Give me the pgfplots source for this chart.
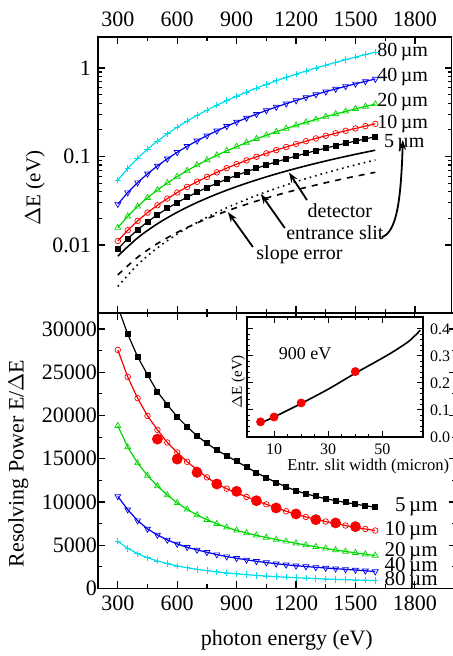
\documentclass[border=0pt]{standalone}
\usepackage{fontspec}
\setmainfont{Liberation Serif}
\usepackage{pgfplots}
\pgfplotsset{compat=1.18}
\usetikzlibrary{arrows.meta}
\definecolor{ccyan}{RGB}{0,222,235}
\definecolor{cblue}{RGB}{0,0,235}
\definecolor{cgreen}{RGB}{0,215,0}
\definecolor{cred}{RGB}{250,0,0}
\pgfplotsset{
  main/.style={scale only axis, axis line style={line width=0.8pt},
    major tick length=3.5pt, minor tick length=2pt,
    every tick/.style={line width=0.6pt, black},
    tick label style={font=\fontsize{11}{13}\selectfont},
    label style={font=\fontsize{11}{13}\selectfont},
    /pgf/number format/assume math mode=true,
    /pgf/number format/1000 sep={}},
  s80/.style={ccyan, line width=0.6pt, mark=+, mark size=1.6pt, mark options={solid, line width=0.4pt}},
  s40/.style={cblue, line width=0.6pt, mark=triangle, mark size=1.7pt, mark options={solid, rotate=180, line width=0.35pt, fill=white}},
  s20/.style={cgreen, line width=0.6pt, mark=triangle, mark size=1.7pt, mark options={solid, line width=0.35pt, fill=white}},
  s10/.style={cred, line width=0.6pt, mark=o, mark size=1.4pt, mark options={solid, line width=0.35pt, fill=white}},
  s5/.style={black, line width=0.6pt, mark=square*, mark size=1.2pt, mark options={solid}},
}
\begin{document}
\begin{tikzpicture}
\useasboundingbox (0,0) rectangle (226.5pt,328pt);
% ---------------- top panel ----------------
\begin{axis}[main, at={(49pt,171.5pt)}, anchor=south west,
  width=176.8pt, height=138pt,
  xmin=200, xmax=1985, ymode=log, ymin=0.001706, ymax=2.24,
  xtick={300,600,900,1200,1500,1800}, minor x tick num=1,
  xticklabel pos=upper, xticklabel style={yshift=1.5pt},
  ytick={0.01,0.1,1}, yticklabels={0.01,0.1,1},
  ylabel={$\Delta$E (eV)},
  ylabel style={at={(axis description cs:-0.178,0.453)}, anchor=center, font=\fontsize{10.5}{12}\selectfont},
]
\addplot[s80] coordinates {(300,0.0540)(350,0.0734)(400,0.0957)(450,0.1210)(500,0.1492)(550,0.1804)(600,0.2145)(650,0.2515)(700,0.2915)(750,0.3344)(800,0.3803)(850,0.4290)(900,0.4807)(950,0.5353)(1000,0.5928)(1050,0.6533)(1100,0.7167)(1150,0.7829)(1200,0.8521)(1250,0.9243)(1300,0.9992)(1350,1.077)(1400,1.158)(1450,1.242)(1500,1.329)(1550,1.418)(1600,1.510)};
\addplot[s40] coordinates {(300,0.0290)(350,0.03913)(400,0.05073)(450,0.06379)(500,0.07828)(550,0.09422)(600,0.1116)(650,0.1304)(700,0.1506)(750,0.1722)(800,0.1952)(850,0.2196)(900,0.2454)(950,0.2726)(1000,0.3012)(1050,0.3312)(1100,0.3626)(1150,0.3953)(1200,0.4294)(1250,0.4648)(1300,0.5017)(1350,0.5399)(1400,0.5794)(1450,0.6203)(1500,0.6626)(1550,0.7062)(1600,0.7511)};
\addplot[s20] coordinates {(300,0.0157)(350,0.02111)(400,0.02728)(450,0.03420)(500,0.04187)(550,0.05027)(600,0.05942)(650,0.06928)(700,0.07988)(750,0.09120)(800,0.1032)(850,0.1160)(900,0.1294)(950,0.1436)(1000,0.1584)(1050,0.1740)(1100,0.1902)(1150,0.2072)(1200,0.2248)(1250,0.2432)(1300,0.2622)(1350,0.2819)(1400,0.3023)(1450,0.3233)(1500,0.3451)(1550,0.3675)(1600,0.3906)};
\addplot[s10] coordinates {(300,0.0111)(350,0.01469)(400,0.01874)(450,0.02322)(500,0.02813)(550,0.03345)(600,0.03919)(650,0.04534)(700,0.05189)(750,0.05883)(800,0.06616)(850,0.07388)(900,0.08197)(950,0.09045)(1000,0.09930)(1050,0.1085)(1100,0.1181)(1150,0.1281)(1200,0.1384)(1250,0.1491)(1300,0.1601)(1350,0.1715)(1400,0.1832)(1450,0.1953)(1500,0.2077)(1550,0.2205)(1600,0.2336)};
\addplot[s5] coordinates {(300,0.0090)(350,0.01178)(400,0.01487)(450,0.01827)(500,0.02196)(550,0.02593)(600,0.03019)(650,0.03472)(700,0.03951)(750,0.04457)(800,0.04989)(850,0.05546)(900,0.06128)(950,0.06735)(1000,0.07365)(1050,0.08021)(1100,0.08699)(1150,0.09401)(1200,0.1013)(1250,0.1088)(1300,0.1165)(1350,0.1244)(1400,0.1326)(1450,0.1409)(1500,0.1495)(1550,0.1583)(1600,0.1674)};
% detector
\addplot[black, line width=0.8pt, smooth, no marks] coordinates {(300,0.0075)(400,0.01204)(500,0.01738)(600,0.02346)(700,0.03023)(800,0.03765)(900,0.04570)(1000,0.05435)(1100,0.06358)(1200,0.07336)(1300,0.08369)(1400,0.09454)(1500,0.1059)(1600,0.1178)};
% entrance slit
\addplot[black, line width=0.8pt, dotted, smooth, no marks] coordinates {(300,0.0034)(400,0.005986)(500,0.009282)(600,0.01328)(700,0.01799)(800,0.02338)(900,0.02948)(1000,0.03626)(1100,0.04374)(1200,0.05190)(1300,0.06074)(1400,0.07026)(1500,0.08048)(1600,0.09137)};
% slope error
\addplot[black, line width=0.8pt, dashed, smooth, no marks] coordinates {(300,0.0046)(400,0.007276)(500,0.01038)(600,0.01389)(700,0.01776)(800,0.02197)(900,0.02650)(1000,0.03135)(1100,0.03649)(1200,0.04192)(1300,0.04763)(1400,0.05360)(1500,0.05983)(1600,0.06631)};
\begin{scope}[font=\fontsize{10}{12}\selectfont]
\node[anchor=east] at (axis cs:1901,1.517) {80\,µm};
\node[anchor=east] at (axis cs:1901,0.791) {40\,µm};
\node[anchor=east] at (axis cs:1901,0.413) {20\,µm};
\node[anchor=east] at (axis cs:1901,0.233) {10\,µm};
\node[anchor=east] at (axis cs:1884,0.142) {5\,µm};
\node at (axis cs:1421,0.0242) {detector};
\node at (axis cs:1396,0.01367) {entrance slit};
\node at (axis cs:1217,0.0077) {slope error};
\end{scope}
\draw[-{Stealth[length=5pt,width=3.5pt]}, line width=0.9pt] (axis cs:1255,0.0322) -- (axis cs:1164,0.066);
\draw[-{Stealth[length=5pt,width=3.5pt]}, line width=0.9pt] (axis cs:1143,0.01556) -- (axis cs:1022,0.0377);
\draw[-{Stealth[length=5pt,width=3.5pt]}, line width=0.9pt] (axis cs:982,0.0095) -- (axis cs:856,0.0235);
\draw[-{Stealth[length=5pt,width=3.5pt]}, line width=0.9pt] (axis cs:1632,0.01222) .. controls (axis cs:1709,0.01403) and (axis cs:1729,0.03225) .. (axis cs:1739,0.1536);
\end{axis}
% ---------------- bottom panel ----------------
\begin{axis}[main, at={(49pt,33.75pt)}, anchor=south west,
  width=179.2pt, height=137.75pt,
  xmin=200, xmax=2010, ymin=0, ymax=31850,
  xtick={300,600,900,1200,1500,1800}, minor x tick num=1,
  ytick={0,5000,10000,15000,20000,25000,30000}, minor y tick num=1,
  scaled y ticks=false,
  yticklabel style={xshift=3pt},
  xlabel={photon energy (eV)},
  xlabel style={at={(axis description cs:0.527,-0.187)}, anchor=center},
  ylabel={Resolving Power E/$\Delta$E},
  ylabel style={at={(axis description cs:-0.222,0.454)}, anchor=center},
]
\addplot[s5] coordinates {(300,32600)(350,29400)(400,26800)(450,24700)(500,22750)(550,21250)(600,19850)(650,18700)(700,17650)(750,16780)(800,16000)(850,15350)(900,14700)(950,14050)(1000,13400)(1050,12800)(1100,12250)(1150,11750)(1200,11300)(1250,10950)(1300,10650)(1350,10380)(1400,10150)(1450,9950)(1500,9750)(1550,9570)(1600,9400)};
\addplot[s10] coordinates {(300,27580)(350,24460)(400,22000)(450,19960)(500,18350)(550,16880)(600,15730)(650,14650)(700,13730)(750,12850)(800,12080)(850,11540)(900,11050)(950,10590)(1000,10150)(1050,9730)(1100,9320)(1150,8930)(1200,8580)(1250,8270)(1300,7990)(1350,7740)(1400,7500)(1450,7280)(1500,7070)(1550,6880)(1600,6700)};
\addplot[s20] coordinates {(300,18810)(350,16350)(400,14500)(450,13050)(500,11850)(550,10800)(600,9900)(650,9150)(700,8500)(750,7950)(800,7480)(850,7070)(900,6720)(950,6420)(1000,6150)(1050,5900)(1100,5660)(1150,5440)(1200,5230)(1250,5020)(1300,4820)(1350,4630)(1400,4450)(1450,4280)(1500,4120)(1550,3960)(1600,3810)};
\addplot[s40] coordinates {(300,10650)(350,9120)(400,7850)(450,6890)(500,6190)(550,5620)(600,5150)(650,4770)(700,4460)(750,4190)(800,3920)(850,3690)(900,3500)(950,3310)(1000,3150)(1050,3000)(1100,2860)(1150,2740)(1200,2630)(1250,2540)(1300,2450)(1350,2370)(1400,2290)(1450,2210)(1500,2140)(1550,2050)(1600,1960)};
\addplot[s80] coordinates {(300,5460)(350,4640)(400,4020)(450,3550)(500,3175)(550,2870)(600,2610)(650,2400)(700,2215)(750,2060)(800,1920)(850,1800)(900,1695)(950,1600)(1000,1517)(1050,1440)(1100,1370)(1150,1307)(1200,1250)(1250,1196)(1300,1147)(1350,1102)(1400,1060)(1450,1022)(1500,985)(1550,952)(1600,920)};
\addplot[only marks, mark=*, mark size=2.5pt, cred, draw=cred, fill=cred] coordinates {(500,17270)(600,14960)(700,13420)(800,12080)(900,11230)(1000,10150)(1100,9310)(1200,8620)(1300,7960)(1400,7580)(1500,7150)};
\begin{scope}[font=\fontsize{10.5}{12}\selectfont]
\node[anchor=east] at (axis cs:1951,9457) {5\,µm};
\node[anchor=east] at (axis cs:1951,6682) {10\,µm};
\node[anchor=east] at (axis cs:1951,4254) {20\,µm};
\node[anchor=east] at (axis cs:1951,2520) {40\,µm};
\node[anchor=east] at (axis cs:1951,902) {80\,µm};
\end{scope}
\end{axis}
% ---------------- inset ----------------
\begin{axis}[scale only axis, at={(123.5pt,109.5pt)}, anchor=south west,
  width=88pt, height=60pt, axis background/.style={fill=white},
  axis line style={line width=0.7pt},
  major tick length=3pt, minor tick length=1.6pt,
  every tick/.style={line width=0.5pt, black},
  xmin=0, xmax=65, ymin=0, ymax=0.444,
  xtick={10,30,50}, minor x tick num=3,
  ytick={0,0.1,0.2,0.3,0.4}, minor y tick num=4,
  yticklabel pos=right,
  yticklabel style={/pgf/number format/fixed, /pgf/number format/fixed zerofill, /pgf/number format/precision=1},
  tick label style={font=\fontsize{8}{9}\selectfont},
  /pgf/number format/assume math mode=true,
  xlabel={Entr. slit width (micron)},
  xlabel style={at={(axis description cs:0.689,-0.242)}, anchor=center, font=\fontsize{8.3}{10}\selectfont},
  ylabel={$\Delta$E (eV)},
  ylabel style={at={(axis description cs:-0.049,0.46)}, anchor=center, font=\fontsize{7.5}{9}\selectfont},
]
\addplot[black, line width=0.8pt, smooth, no marks] coordinates {(5,0.052)(10,0.074)(20,0.124)(30,0.177)(40,0.236)(50,0.292)(55,0.322)(60,0.356)(64,0.395)};
\addplot[only marks, mark=*, mark size=2pt, cred, draw=cred, fill=cred] coordinates {(5,0.056)(10,0.074)(20,0.126)(40,0.242)};
\node[font=\fontsize{9}{11}\selectfont] at (axis cs:21.5,0.31) {900 eV};
\end{axis}
\end{tikzpicture}
\end{document}
